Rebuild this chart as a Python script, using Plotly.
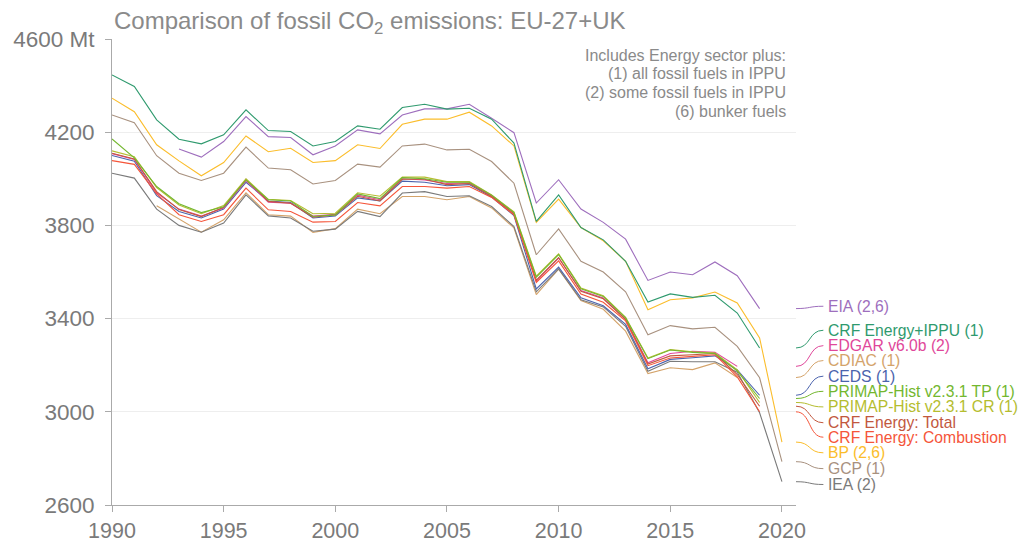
import plotly.graph_objects as go

years = list(range(1990, 2021))

series_names = [
    "EIA (2,6)", "CRF Energy+IPPU (1)", "EDGAR v6.0b (2)", "CDIAC (1)", "CEDS (1)",
    "PRIMAP-Hist v2.3.1 TP (1)", "PRIMAP-Hist v2.3.1 CR (1)", "CRF Energy: Total",
    "CRF Energy: Combustion", "BP (2,6)", "GCP (1)", "IEA (2)",
]

N = None
eia = [N, N, N, 4128, 4093, 4160, 4267, 4181, 4177, 4103, 4141, 4210, 4193, 4274, 4300,
       4300, 4320, 4260, 4198, 3896, 3996, 3870, 3813, 3741, 3564, 3600, 3588, 3643, 3584, 3443, N]
crf_ippu = [4446, 4396, 4253, 4170, 4150, 4189, 4296, 4207, 4203, 4141, 4160, 4227, 4213, 4306, 4320,
            4299, 4303, 4256, 4153, 3817, 3931, 3791, 3738, 3646, 3471, 3506, 3491, 3500, 3424, 3274, N]
edgar = [4108, 4083, 3940, 3870, 3840, 3875, 3992, 3900, 3895, 3840, 3848, 3930, 3910, 4000, 3995,
         3980, 3982, 3928, 3850, 3560, 3660, 3520, 3488, 3398, 3210, 3250, 3260, 3255, 3195, N, N]
cdiac = [N, N, 3884, 3828, 3771, 3824, 3940, 3846, 3840, 3770, 3786, 3870, 3850, 3924, 3924,
         3910, 3924, 3875, 3789, 3503, 3612, 3478, 3440, 3346, 3164, 3189, 3181, 3210, 3147, N, N]
ceds = [4100, 4075, 3928, 3860, 3832, 3870, 3985, 3905, 3898, 3832, 3840, 3918, 3905, 3990, 3985,
        3970, 3975, 3922, 3842, 3527, 3621, 3489, 3455, 3375, 3185, 3225, 3232, 3240, 3180, 3071, N]
primap_tp = [4171, 4090, 3967, 3893, 3855, 3880, 3995, 3910, 3905, 3838, 3845, 3935, 3915, 4005, 4000,
             3985, 3985, 3930, 3855, 3578, 3675, 3528, 3495, 3403, 3228, 3265, 3255, 3250, 3175, 3057, N]
primap_cr = [4120, 4095, 3962, 3888, 3850, 3885, 4000, 3912, 3907, 3850, 3852, 3940, 3925, 4007, 4007,
             3988, 3988, 3931, 3858, 3582, 3678, 3531, 3498, 3405, 3231, 3267, 3258, 3252, 3180, 3040, N]
crf_total = [4110, 4085, 3945, 3868, 3838, 3878, 3998, 3903, 3895, 3835, 3845, 3925, 3905, 3998, 3998,
             3975, 3980, 3925, 3850, 3565, 3662, 3517, 3485, 3396, 3205, 3240, 3245, 3250, 3160, 3024, N]
crf_comb = [4078, 4062, 3935, 3846, 3817, 3846, 3960, 3867, 3860, 3814, 3817, 3898, 3884, 3967, 3967,
            3960, 3967, 3920, 3845, 3555, 3648, 3505, 3470, 3390, 3198, 3231, 3238, 3245, 3150, 3000, N]
bp = [4346, 4288, 4146, 4077, 4013, 4070, 4184, 4116, 4131, 4070, 4078, 4146, 4130, 4234, 4256,
      4256, 4286, 4227, 4141, 3813, 3913, 3791, 3734, 3646, 3438, 3481, 3489, 3514, 3467, 3317, 2870]
gcp = [4274, 4241, 4099, 4024, 3993, 4024, 4136, 4046, 4039, 3978, 3993, 4063, 4050, 4141, 4149,
       4124, 4127, 4074, 3981, 3674, 3785, 3646, 3600, 3515, 3331, 3370, 3356, 3363, 3281, 3146, 2786]
iea = [4024, 4003, 3870, 3800, 3771, 3810, 3931, 3841, 3832, 3775, 3784, 3860, 3838, 3939, 3945,
       3924, 3927, 3881, 3795, 3515, 3613, 3481, 3450, 3367, 3174, 3217, 3215, 3215, 3170, 2996, 2700]

series_values = [eia, crf_ippu, edgar, cdiac, ceds, primap_tp, primap_cr, crf_total, crf_comb, bp, gcp, iea]

# label anchor positions (Mt) for the end labels
label_y = [3453, 3350, 3284, 3220, 3153, 3088, 3021, 2953, 2891, 2824, 2756, 2688]

note_lines = ["Includes Energy sector plus:", "(1) all fossil fuels in IPPU",
              "(2) some fossil fuels in IPPU", "(6) bunker fuels"]

colors = ["#9e6ebd", "#2f9a6e", "#e0479a", "#d4a36a", "#4b63ad", "#73b72f", "#b5bd2f",
          "#c2583e", "#f5553a", "#fbbd2b", "#a8917f", "#7a7a7a"]

y_ticks = [2600, 3000, 3400, 3800, 4200, 4600]
y_ticktext = ["2600", "3000", "3400", "3800", "4200", "4600 Mt"]
x_ticks = [1990, 1995, 2000, 2005, 2010, 2015, 2020]

FONT = "Liberation Sans, Arial, Helvetica, sans-serif"
fig = go.Figure()

draw_order = [3, 11, 4, 2, 7, 8, 6, 5, 10, 9, 0, 1]
for i in draw_order:
    fig.add_trace(go.Scatter(x=years, y=series_values[i], mode="lines", name=series_names[i],
                             line=dict(color=colors[i], width=1.1), connectgaps=False,
                             hoverinfo="skip"))

shapes = []
annotations = []
for i, name in enumerate(series_names):
    vals = [v for v in series_values[i] if v is not None]
    y0 = vals[-1]
    y1 = label_y[i]
    path = f"M 1.0,{y0} C 1.022,{y0} 1.018,{y1} 1.04,{y1}"
    shapes.append(dict(type="path", path=path, xref="paper", yref="y",
                       line=dict(color=colors[i], width=1)))
    annotations.append(dict(x=1.04, y=y1, xref="paper", yref="y", text=name,
                            showarrow=False, xanchor="left", yanchor="middle", xshift=3,
                            font=dict(family=FONT, size=15.7, color=colors[i])))

for k, line in enumerate(note_lines):
    annotations.append(dict(x=1.0, xref="paper", y=1.0, yref="paper", yanchor="middle",
                            xanchor="right", showarrow=False, text=line,
                            font=dict(family=FONT, size=16, color="#8a8a8a"),
                            xshift=-8, yshift=-16 - 18.7 * k))

annotations.append(dict(x=0.0, xref="paper", y=1.0, yref="paper", xanchor="left", yanchor="bottom",
                        showarrow=False, text="Comparison of fossil CO<sub>2</sub> emissions: EU-27+UK",
                        font=dict(family=FONT, size=24, color="#8a8a8a"), yshift=-1))

fig.update_layout(
    template="none",
    width=1024, height=543,
    margin=dict(l=112, r=228, t=39, b=38, autoexpand=False),
    paper_bgcolor="white", plot_bgcolor="white",
    showlegend=False,
    font=dict(family=FONT, color="#7a7a7a"),
    shapes=shapes, annotations=annotations,
    xaxis=dict(range=[1990, 2020.63], tickvals=x_ticks, ticks="outside", ticklen=6,
               tickcolor="#aaaaaa", showline=True, linecolor="#aaaaaa", linewidth=1,
               showgrid=False, zeroline=False, automargin=False, ticklabelstandoff=0,
               tickfont=dict(size=21.5, color="#7a7a7a")),
    yaxis=dict(range=[2600, 4600], tickvals=y_ticks, ticktext=y_ticktext, ticks="outside",
               ticklen=6, tickcolor="#aaaaaa", showline=True, linecolor="#aaaaaa", linewidth=1,
               showgrid=True, gridcolor="#eeeeee", gridwidth=1, zeroline=False, automargin=False,
               ticklabelstandoff=6, tickfont=dict(size=22.5, color="#7a7a7a")),
)

fig.write_html("out.html", config={"displayModeBar": False},
               post_script="document.body.style.margin='0';")
